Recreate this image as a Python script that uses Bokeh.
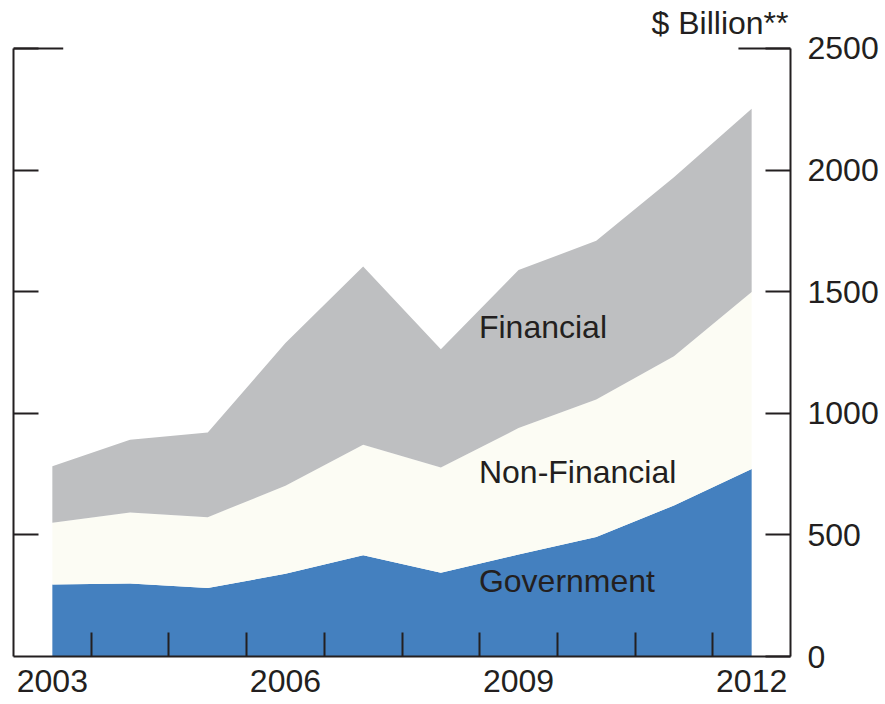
from bokeh.plotting import figure
from bokeh.models import Range1d, LinearAxis, FixedTicker, ColumnDataSource
from bokeh.core.properties import value
from bokeh.embed import file_html
from bokeh.resources import INLINE

# ---- data ($ billion) ----
years = [2003, 2004, 2005, 2006, 2007, 2008, 2009, 2010, 2011, 2012]
government = [296, 300, 282, 340, 416, 344, 419, 491, 621, 771]
non_financial = [254, 292, 291, 362, 455, 433, 520, 566, 614, 728]
financial = [232, 299, 348, 587, 733, 486, 650, 652, 735, 753]

series_names = ["Government", "Non-Financial", "Financial"]
series_colors = ["#4480BF", "#FCFCF4", "#BEBFC1"]

x_label_ticks = [2003, 2006, 2009, 2012]
x_minor_ticks = [2003.5, 2004.5, 2005.5, 2006.5, 2007.5, 2008.5, 2009.5, 2010.5, 2011.5]
y_ticks = [0, 500, 1000, 1500, 2000, 2500]

# in-chart series labels
label_text = ["Financial", "Non-Financial", "Government"]
label_x = [2008.49, 2008.49, 2008.49]
label_y = [1353, 757, 311]

unit_text = "$ Billion**"

INK = "#231F20"
FONT = "Liberation Sans"
FS = "32px"

src = ColumnDataSource(dict(year=years, government=government,
                            non_financial=non_financial, financial=financial))

p = figure(width=885, height=704,
           x_range=Range1d(2002.5, 2012.5), y_range=Range1d(0, 2689),
           y_axis_location="right",
           output_backend="svg", toolbar_location=None,
           min_border_left=13, min_border_right=95,
           min_border_top=2, min_border_bottom=48)
p.outline_line_color = None
p.xgrid.grid_line_color = None
p.ygrid.grid_line_color = None
p.background_fill_color = "white"
p.border_fill_color = "white"

p.varea_stack(["government", "non_financial", "financial"], x="year",
              fill_color=series_colors, source=src)

# series labels
p.text(x=label_x, y=label_y, text=label_text,
       text_font=value(FONT), text_font_size=value(FS),
       text_baseline="middle", text_align="left", text_color=INK)

top = y_ticks[-1]
x0, x1 = p.x_range.start, p.x_range.end

# unit label above the right axis
p.text(x=[x1], y=[top], text=[unit_text], text_font=value(FONT),
       text_font_size=value(FS), text_align="right", text_baseline="alphabetic",
       y_offset=-25, x_offset=-2, text_color=INK)

# long top ticks at 2500 on both sides
p.segment(x0=[x0, x1 - 0.67], x1=[x0 + 0.64, x1], y0=[top, top], y1=[top, top],
          line_color=INK, line_width=2)

# bottom axis
xa = p.xaxis[0]
xa.ticker = FixedTicker(ticks=x_label_ticks, minor_ticks=x_minor_ticks)
xa.major_tick_in = 0
xa.major_tick_out = 0
xa.minor_tick_in = 24
xa.minor_tick_out = 0
xa.minor_tick_line_width = 2
xa.minor_tick_line_color = INK
xa.axis_line_width = 2
xa.axis_line_color = INK
xa.major_label_text_font = FONT
xa.major_label_text_font_size = FS
xa.major_label_text_color = INK
xa.major_label_standoff = 13

# right axis
ya = p.yaxis[0]
ya.bounds = (0, 2500)
ya.ticker = FixedTicker(ticks=y_ticks, minor_ticks=[])
ya.major_tick_in = 25
ya.major_tick_out = 0
ya.minor_tick_in = 0
ya.minor_tick_out = 0
ya.major_tick_line_width = 2
ya.major_tick_line_color = INK
ya.axis_line_width = 2
ya.axis_line_color = INK
ya.major_label_text_font = FONT
ya.major_label_text_font_size = FS
ya.major_label_text_color = INK
ya.major_label_standoff = 17

# left axis: ticks only
la = LinearAxis(bounds=(0, 2500), ticker=FixedTicker(ticks=y_ticks[1:], minor_ticks=[]),
                major_tick_in=25, major_tick_out=0, minor_tick_in=0, minor_tick_out=0,
                major_tick_line_width=2, major_tick_line_color=INK,
                axis_line_width=2, axis_line_color=INK,
                major_label_overrides={t: "" for t in y_ticks[1:]},
                major_label_standoff=0, major_label_text_font_size="1px")
p.add_layout(la, "left")

open("out.html", "w").write(file_html(p, INLINE))
